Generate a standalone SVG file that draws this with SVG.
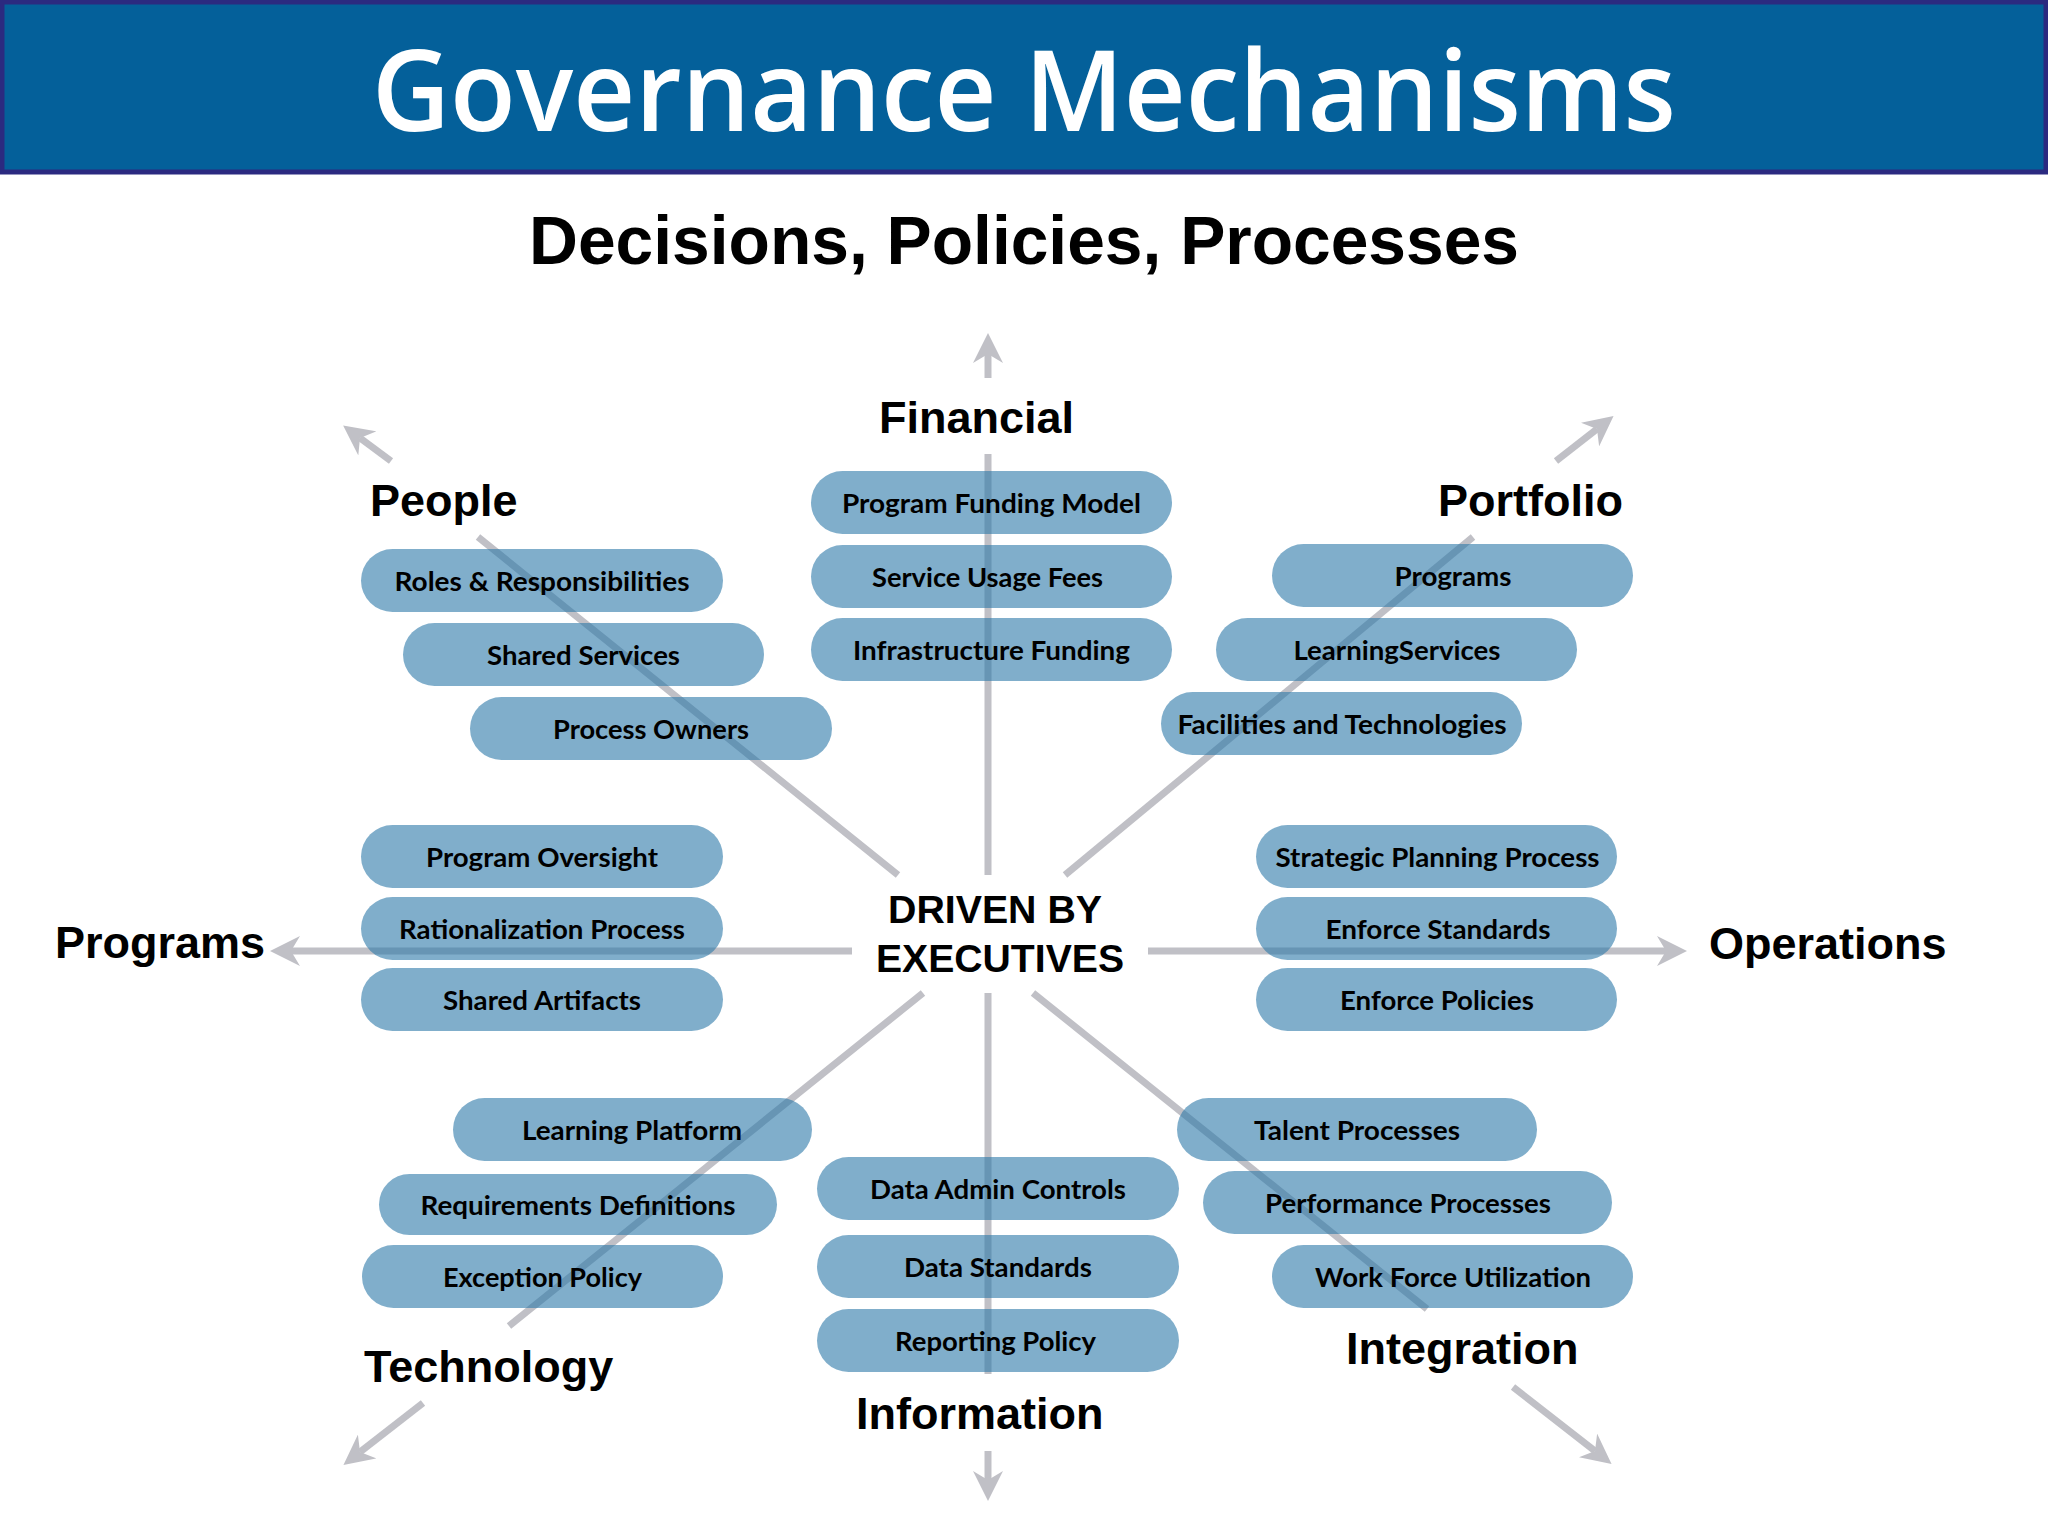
<svg xmlns="http://www.w3.org/2000/svg" width="2048" height="1536" viewBox="0 0 2048 1536">
<style>
.pill rect{fill:#2B78A8;fill-opacity:0.6}
.pill text{font-family:Lato,"Open Sans","Liberation Sans",sans-serif;font-weight:700;font-size:26.5px;fill:#000;text-anchor:middle}
.cat{font-family:"Liberation Sans",Arial,sans-serif;font-weight:700;font-size:45px;fill:#000}
.ctr{font-family:"Liberation Sans",Arial,sans-serif;font-weight:700;font-size:39px;fill:#000;text-anchor:middle}
.ln{stroke:#C0C0C6;stroke-width:7;fill:none}
.ar{stroke:#C0C0C6;stroke-width:7;fill:none;marker-end:url(#head)}
</style>
<defs>
<marker id="head" viewBox="0 0 10 10" markerWidth="30" markerHeight="30" markerUnits="userSpaceOnUse" refX="3" refY="5" orient="auto">
<path d="M0,0 L10,5 L0,10 L3,5 Z" fill="#C0C0C6"/>
</marker>
</defs>
<rect width="2048" height="1536" fill="#FFFFFF"/>
<g id="header">
<rect x="2" y="2" width="2044" height="170" fill="#04609A" stroke="#2B2A80" stroke-width="5"/>
<text x="1024" y="131" text-anchor="middle" textLength="1304" lengthAdjust="spacingAndGlyphs" font-family="'Open Sans','Noto Sans',sans-serif" font-weight="600" font-size="112" fill="#FFFFFF">Governance Mechanisms</text>
</g>
<text id="subtitle" x="1024" y="264" text-anchor="middle" textLength="990" lengthAdjust="spacingAndGlyphs" font-family="'Liberation Sans',Arial,sans-serif" font-weight="700" font-size="68" fill="#000">Decisions, Policies, Processes</text>
<g id="connectors">
<line class="ln" x1="988" y1="875" x2="988" y2="454"/>
<line class="ln" x1="898" y1="875" x2="478" y2="537"/>
<line class="ln" x1="1065" y1="875" x2="1473" y2="537"/>
<line class="ln" x1="988" y1="993" x2="988" y2="1374"/>
<line class="ln" x1="923" y1="993" x2="509" y2="1326"/>
<line class="ln" x1="1033" y1="993" x2="1427" y2="1309"/>
<line class="ar" x1="852" y1="951" x2="291" y2="951"/>
<line class="ar" x1="1148" y1="951" x2="1666" y2="951"/>
<line class="ar" x1="988" y1="378" x2="988" y2="354"/>
<line class="ar" x1="391" y1="461" x2="360" y2="438"/>
<line class="ar" x1="1556" y1="461" x2="1597" y2="429"/>
<line class="ar" x1="423" y1="1403" x2="360" y2="1452"/>
<line class="ar" x1="988" y1="1451" x2="988" y2="1480"/>
<line class="ar" x1="1513" y1="1387" x2="1595" y2="1451"/>
</g>
<g id="center">
<text class="ctr" x="995" y="923" textLength="214" lengthAdjust="spacingAndGlyphs">DRIVEN BY</text>
<text class="ctr" x="1000" y="972" textLength="248" lengthAdjust="spacingAndGlyphs">EXECUTIVES</text>
</g>
<g id="label-people"><text class="cat" x="370" y="516">People</text></g>
<g id="label-financial"><text class="cat" x="879" y="433">Financial</text></g>
<g id="label-portfolio"><text class="cat" x="1438" y="516">Portfolio</text></g>
<g id="label-programs"><text class="cat" x="55" y="958">Programs</text></g>
<g id="label-operations"><text class="cat" x="1709" y="959">Operations</text></g>
<g id="label-technology"><text class="cat" x="364" y="1382">Technology</text></g>
<g id="label-information"><text class="cat" x="856" y="1429">Information</text></g>
<g id="label-integration"><text class="cat" x="1346" y="1364">Integration</text></g>

<g id="roles" class="pill"><rect x="361" y="549" width="362" height="63" rx="31.5"/><text x="542" y="590.5" textLength="295" lengthAdjust="spacingAndGlyphs">Roles &amp; Responsibilities</text></g>
<g id="shared-services" class="pill"><rect x="403" y="623" width="361" height="63" rx="31.5"/><text x="583.5" y="664.5" textLength="193" lengthAdjust="spacingAndGlyphs">Shared Services</text></g>
<g id="process-owners" class="pill"><rect x="470" y="697" width="362" height="63" rx="31.5"/><text x="651" y="738.5" textLength="196" lengthAdjust="spacingAndGlyphs">Process Owners</text></g>

<g id="program-funding" class="pill"><rect x="811" y="471" width="361" height="63" rx="31.5"/><text x="991.5" y="512.5" textLength="299" lengthAdjust="spacingAndGlyphs">Program Funding Model</text></g>
<g id="service-usage" class="pill"><rect x="811" y="545" width="361" height="63" rx="31.5"/><text x="987.5" y="586.5" textLength="231" lengthAdjust="spacingAndGlyphs">Service Usage Fees</text></g>
<g id="infrastructure" class="pill"><rect x="811" y="618" width="361" height="63" rx="31.5"/><text x="991.5" y="659.5" textLength="277" lengthAdjust="spacingAndGlyphs">Infrastructure Funding</text></g>

<g id="portfolio-programs" class="pill"><rect x="1272" y="544" width="361" height="63" rx="31.5"/><text x="1453" y="585.5" textLength="117" lengthAdjust="spacingAndGlyphs">Programs</text></g>
<g id="learning-services" class="pill"><rect x="1216" y="618" width="361" height="63" rx="31.5"/><text x="1397" y="659.5" textLength="207" lengthAdjust="spacingAndGlyphs">LearningServices</text></g>
<g id="facilities" class="pill"><rect x="1161" y="692" width="361" height="63" rx="31.5"/><text x="1342" y="733.5" textLength="329" lengthAdjust="spacingAndGlyphs">Facilities and Technologies</text></g>

<g id="program-oversight" class="pill"><rect x="361" y="825" width="362" height="63" rx="31.5"/><text x="542" y="866.5" textLength="232" lengthAdjust="spacingAndGlyphs">Program Oversight</text></g>
<g id="rationalization" class="pill"><rect x="361" y="897" width="362" height="63" rx="31.5"/><text x="542" y="938.5" textLength="286" lengthAdjust="spacingAndGlyphs">Rationalization Process</text></g>
<g id="shared-artifacts" class="pill"><rect x="361" y="968" width="362" height="63" rx="31.5"/><text x="542" y="1009.5" textLength="198" lengthAdjust="spacingAndGlyphs">Shared Artifacts</text></g>

<g id="strategic-planning" class="pill"><rect x="1256" y="825" width="361" height="63" rx="31.5"/><text x="1437.5" y="866.5" textLength="324" lengthAdjust="spacingAndGlyphs">Strategic Planning Process</text></g>
<g id="enforce-standards" class="pill"><rect x="1256" y="897" width="361" height="63" rx="31.5"/><text x="1438" y="938.5" textLength="225" lengthAdjust="spacingAndGlyphs">Enforce Standards</text></g>
<g id="enforce-policies" class="pill"><rect x="1256" y="968" width="361" height="63" rx="31.5"/><text x="1437" y="1009.5" textLength="194" lengthAdjust="spacingAndGlyphs">Enforce Policies</text></g>

<g id="learning-platform" class="pill"><rect x="453" y="1098" width="359" height="63" rx="31.5"/><text x="632" y="1139.5" textLength="220" lengthAdjust="spacingAndGlyphs">Learning Platform</text></g>
<g id="requirements" class="pill"><rect x="379" y="1174" width="398" height="61" rx="30.5"/><text x="578" y="1214.5" textLength="315" lengthAdjust="spacingAndGlyphs">Requirements Definitions</text></g>
<g id="exception-policy" class="pill"><rect x="362" y="1245" width="361" height="63" rx="31.5"/><text x="542.5" y="1286.5" textLength="199" lengthAdjust="spacingAndGlyphs">Exception Policy</text></g>

<g id="data-admin" class="pill"><rect x="817" y="1157" width="362" height="63" rx="31.5"/><text x="998" y="1198.5" textLength="256" lengthAdjust="spacingAndGlyphs">Data Admin Controls</text></g>
<g id="data-standards" class="pill"><rect x="817" y="1235" width="362" height="63" rx="31.5"/><text x="998" y="1276.5" textLength="188" lengthAdjust="spacingAndGlyphs">Data Standards</text></g>
<g id="reporting-policy" class="pill"><rect x="817" y="1309" width="362" height="63" rx="31.5"/><text x="995.5" y="1350.5" textLength="201" lengthAdjust="spacingAndGlyphs">Reporting Policy</text></g>

<g id="talent" class="pill"><rect x="1177" y="1098" width="360" height="63" rx="31.5"/><text x="1357" y="1139.5" textLength="206" lengthAdjust="spacingAndGlyphs">Talent Processes</text></g>
<g id="performance" class="pill"><rect x="1203" y="1171" width="409" height="63" rx="31.5"/><text x="1408" y="1212.5" textLength="286" lengthAdjust="spacingAndGlyphs">Performance Processes</text></g>
<g id="work-force" class="pill"><rect x="1272" y="1245" width="361" height="63" rx="31.5"/><text x="1453" y="1286.5" textLength="276" lengthAdjust="spacingAndGlyphs">Work Force Utilization</text></g>
</svg>
